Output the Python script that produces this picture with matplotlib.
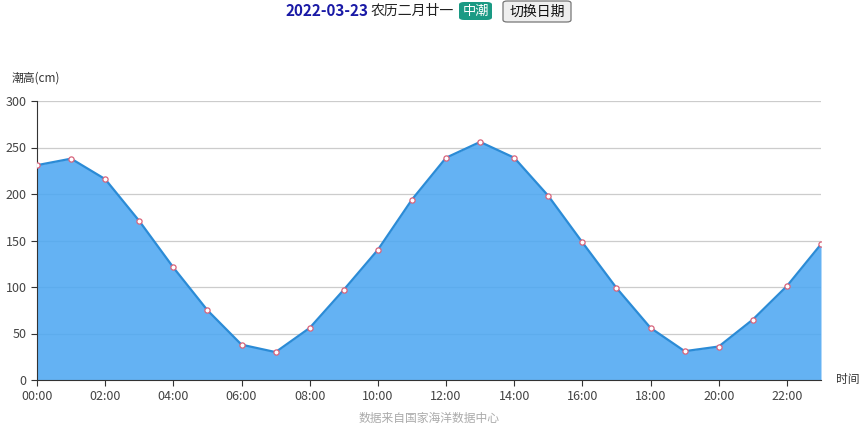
import matplotlib
matplotlib.use("Agg")
import matplotlib.pyplot as plt
from matplotlib.patches import FancyBboxPatch

plt.rcParams['font.family'] = ['Noto Sans CJK SC', 'DejaVu Sans']

hours = list(range(24))
tick_labels = ["%02d:00" % h for h in range(0, 24, 2)]
tide = [231, 238, 216, 171, 121, 75, 38, 30, 56, 97, 140, 194,
        239, 256, 239, 198, 148, 99, 56, 31, 36, 65, 101, 146]

W, H = 862, 428
fig = plt.figure(figsize=(W / 100, H / 100), dpi=100)
ax = fig.add_axes([37 / W, (H - 380) / H, (821 - 37) / W, (380 - 101) / H])

ax.set_axisbelow(True)
ax.grid(axis='y', color='#cccccc', linewidth=0.9)
ax.fill_between(hours, tide, 0, color='#4ea8f2', alpha=0.88, linewidth=0, zorder=2)
ax.plot(hours, tide, color='#2b8bd6', linewidth=1.6, zorder=3)
ax.scatter(hours, tide, s=14, facecolor='white', edgecolor='#d9637a', linewidth=0.9, zorder=4)

ax.set_xlim(0, 23)
ax.set_ylim(0, 300)
ax.set_yticks(range(0, 301, 50))
ax.set_xticks(range(0, 24, 2))
ax.set_xticklabels(tick_labels)
for s in ['top', 'right']:
    ax.spines[s].set_visible(False)
ax.spines['left'].set_color('#333333')
ax.spines['bottom'].set_color('#333333')
ax.tick_params(axis='both', colors='#333333', labelcolor='#444444', labelsize=9, length=4, width=0.8)

fig.text(12 / W, 1 - 78 / H, "潮高(cm)", fontsize=8.5, color='#333333', va='center', ha='left')
fig.text(836 / W, 1 - 379 / H, "时间", fontsize=8.5, color='#333333', va='center', ha='left')
fig.text(429 / W, 1 - 418 / H, "数据来自国家海洋数据中心", fontsize=8.5, color='#aaaaaa', va='center', ha='center')

# header
ty = 1 - 11 / H
fig.text(286 / W, ty, "2022-03-23", fontsize=11, fontweight='bold', color='#1a1aa6', va='center', ha='left')
fig.text(371 / W, ty, "农历二月廿一", fontsize=10, color='#222222', va='center', ha='left')
badge = FancyBboxPatch((459 / W, (H - 20) / H), 33 / W, 18 / H,
                       boxstyle="round,pad=0,rounding_size=0.006", transform=fig.transFigure,
                       facecolor='#1a9a84', edgecolor='none')
fig.add_artist(badge)
fig.text(475.5 / W, ty, "中潮", fontsize=9.5, color='white', va='center', ha='center')
btn = FancyBboxPatch((503 / W, (H - 22) / H), 68 / W, 21 / H,
                     boxstyle="round,pad=0,rounding_size=0.005", transform=fig.transFigure,
                     facecolor='#efefef', edgecolor='#767676', linewidth=0.9)
fig.add_artist(btn)
fig.text(537 / W, 1 - 11.5 / H, "切换日期", fontsize=10, color='#111111', va='center', ha='center')

fig.savefig("out.png", dpi=100)
